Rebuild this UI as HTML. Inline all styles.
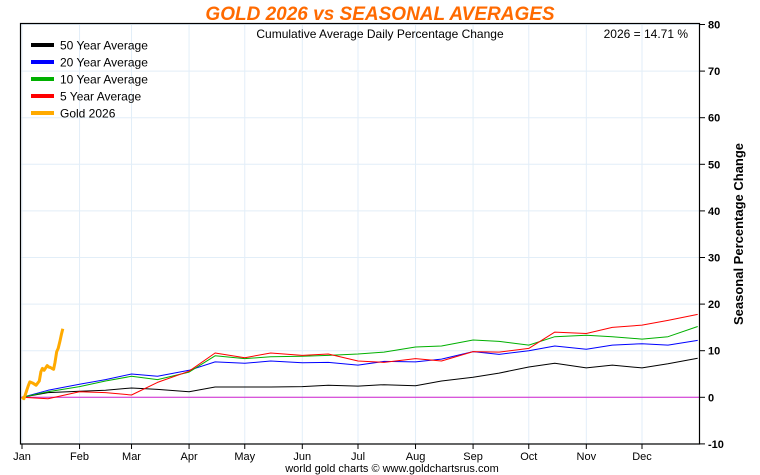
<!DOCTYPE html>
<html><head><meta charset="utf-8"><style>
body{margin:0;background:#fff;width:760px;height:475px;overflow:hidden;font-family:"Liberation Sans",sans-serif}
svg{display:block}
</style></head><body>
<svg id="c" width="760" height="475" font-family="Liberation Sans, sans-serif">
<text x="380" y="20" text-anchor="middle" font-size="19" font-weight="bold" font-style="italic" fill="#ff6a00">GOLD 2026 vs SEASONAL AVERAGES</text>
<g id="grid"></g>
<line x1="20" y1="397.3" x2="700" y2="397.3" stroke="#d020d0" stroke-width="1"/>
<g id="series"></g>
<rect x="20.5" y="23.5" width="679" height="420.5" fill="none" stroke="#000" stroke-width="1.2"/>
<g id="axes"></g>
<text x="380" y="38" text-anchor="middle" font-size="12">Cumulative Average Daily Percentage Change</text>
<text x="688" y="38" text-anchor="end" font-size="12">2026 = 14.71 %</text>
<text transform="translate(743,234) rotate(-90)" text-anchor="middle" font-size="13" font-weight="bold">Seasonal Percentage Change</text>
<text x="392" y="472" text-anchor="middle" font-size="11" fill="#000">world gold charts © www.goldchartsrus.com</text>
<g id="legend"></g>
</svg>
<script>
const months=["Jan","Feb","Mar","Apr","May","Jun","Jul","Aug","Sep","Oct","Nov","Dec"];
const monthStartDays=[0,31,59,90,120,151,181,212,243,273,304,334];
const yTicks=[-10,0,10,20,30,40,50,60,70,80];
const avgDays=[0,14,31,45,59,73,90,104,120,134,151,165,181,195,212,226,243,257,273,287,304,318,334,348,364];
const avg50=[0,1,1.3,1.5,2,1.7,1.2,2.2,2.2,2.2,2.3,2.6,2.4,2.7,2.5,3.5,4.3,5.2,6.5,7.3,6.3,6.9,6.3,7.2,8.4];
const avg20=[0,1.5,2.8,3.8,5,4.5,5.8,7.6,7.3,7.8,7.4,7.5,6.9,7.7,7.6,8.2,9.8,9.2,10,11,10.3,11.2,11.5,11.2,12.2];
const avg10=[0,1.2,2.3,3.5,4.5,3.8,5.4,8.9,8.3,8.7,8.8,9,9.3,9.7,10.8,11,12.3,12,11.2,13,13.3,13,12.5,13,15.2];
const avg5=[0,-0.3,1.2,1,0.5,3.2,5.6,9.5,8.5,9.5,9,9.3,7.8,7.5,8.3,7.8,9.8,9.7,10.5,14,13.7,15,15.5,16.5,17.8];
const goldDays=[0,1,1.7,3.4,4.2,6,7.6,9.3,10.2,11,11.9,13.6,14.4,15.3,16.1,17,17.8,18.7,19.5,20.4,21.2,22];
const gold2026=[0,-0.3,0.5,2.5,3.3,3.0,2.6,3.5,5.5,6.2,5.8,6.8,6.5,6.4,6.2,6.0,7.5,9.8,10.5,12,13.5,14.71];
const NS="http://www.w3.org/2000/svg";
const xS=d=>22+d*(620/334);
const yS=v=>397.3-v*4.66;
function mk(t,a,p){const e=document.createElementNS(NS,t);for(const k in a)e.setAttribute(k,a[k]);p.appendChild(e);return e;}
const grid=document.getElementById('grid'),axes=document.getElementById('axes');
yTicks.forEach(v=>{
 const l=mk('line',{x1:20,x2:700,y1:yS(v),y2:yS(v),stroke:'#e2eef8'},grid);
 
 
 const tk=mk('line',{x1:700,x2:705,y1:yS(v),y2:yS(v),stroke:'#000'},axes);
 
 
 const t=mk('text',{x:708,y:yS(v)+4,'font-size':11,'font-weight':'bold'},axes);t.textContent=v;
 
 
});
months.forEach((m,i)=>{
 const x=xS(monthStartDays[i]);
 const l=mk('line',{x1:x,x2:x,y1:24,y2:444,stroke:'#e2eef8'},grid);
 
 
 const tk=mk('line',{x1:x,x2:x,y1:444,y2:449,stroke:'#000'},axes);
 
 
 const t=mk('text',{x:x,y:460,'font-size':11,'text-anchor':'middle'},axes);t.textContent=m;
 
 
});
const ser=document.getElementById('series');
function line(days,vals,col,w,name){
 const p=mk('polyline',{points:days.map((d,i)=>xS(d).toFixed(1)+','+yS(vals[i]).toFixed(1)).join(' '),fill:'none',stroke:col,'stroke-width':w,'stroke-linejoin':'round'},ser);
 
 
}
line(avgDays,avg50,'#000',1,'line-50-year');
line(avgDays,avg20,'#0000ff',1,'line-20-year');
line(avgDays,avg10,'#00b000',1,'line-10-year');
line(avgDays,avg5,'#ff0000',1,'line-5-year');
line(goldDays,gold2026,'#ffaa00',3,'line-gold-2026');
const leg=document.getElementById('legend');
const legNames=["50 Year Average","20 Year Average","10 Year Average","5 Year Average","Gold 2026"];
const legCols=["#000","#0000ff","#00b000","#ff0000","#ffaa00"];
legNames.forEach((n,i)=>{
 const y=45+i*17;
 const g=mk('g',{},leg);
 
 
 mk('line',{x1:31,x2:54,y1:y,y2:y,stroke:legCols[i],'stroke-width':4},g);
 const t=mk('text',{x:60,y:y+4.5,'font-size':12},g);t.textContent=n;
});
</script>
</body></html>
